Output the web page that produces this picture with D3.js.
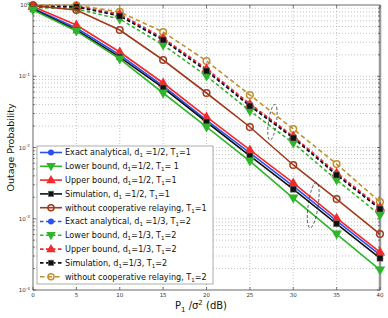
<!DOCTYPE html>
<html>
<head>
<meta charset="utf-8">
<script src="https://cdn.jsdelivr.net/npm/d3@7"></script>
<style>
  body { margin: 0; background: #fff; }
  svg text { font-family: "DejaVu Sans", sans-serif; }
</style>
</head>
<body>
<div id="chart"></div>
<script>
// SNR axis (dB)
const snr = [0, 5, 10, 15, 20, 25, 30, 35, 40];

// case 1: d1=1/2, T1=1 (solid)
const exact1 = [0.90, 0.475, 0.199, 0.073, 0.0243, 0.00838, 0.00288, 0.00093, 0.00031];
const lower1 = [0.85, 0.43, 0.175, 0.0582, 0.0194, 0.00646, 0.00195, 0.00061, 0.000191];
const upper1 = [0.95, 0.524, 0.219, 0.0804, 0.0268, 0.00923, 0.00318, 0.00102, 0.000341];
const sim1 = [0.88, 0.446, 0.186, 0.0685, 0.0228, 0.0076, 0.0026, 0.00085, 0.00028];
const noCoop1 = [0.98, 0.85, 0.446, 0.169, 0.0582, 0.0194, 0.00568, 0.00189, 0.00061];

// case 2: d1=1/3, T1=2 (dashed)
const exact2 = [0.96, 0.95, 0.724, 0.333, 0.1227, 0.0395, 0.014, 0.00425, 0.00141];
const lower2 = [0.93, 0.88, 0.636, 0.275, 0.101, 0.0325, 0.0116, 0.0035, 0.00113];
const upper2 = [0.97, 0.96, 0.748, 0.344, 0.127, 0.0409, 0.0144, 0.0044, 0.00145];
const sim2 = [0.95, 0.94, 0.70, 0.323, 0.1186, 0.0382, 0.0136, 0.00411, 0.00137];
const noCoop2 = [1.0, 0.99, 0.80, 0.418, 0.164, 0.0546, 0.0182, 0.00586, 0.00172];

const xTicks = [0, 5, 10, 15, 20, 25, 30, 35, 40];
const yTicks = [1, 1e-1, 1e-2, 1e-3, 1e-4];
const yExp = ["0", "-1", "-2", "-3", "-4"];

const series = [
  { name: "Exact analytical, d", tail: " =1/2, T", end: "=1", values: exact1, color: "#2a52f0", marker: "dot", dash: null },
  { name: "Lower bound, d", tail: "=1/2, T", end: "= 1", values: lower1, color: "#2fb52a", marker: "down", dash: null },
  { name: "Upper bound, d", tail: "=1/2, T", end: "=1", values: upper1, color: "#f42a2a", marker: "up", dash: null },
  { name: "Simulation, d", tail: " =1/2, T", end: "=1", values: sim1, color: "#111", marker: "square", dash: null },
  { name: "without cooperative relaying, T", tail: null, end: "=1", values: noCoop1, color: "#a03a1a", marker: "ring", dash: null },
  { name: "Exact analytical, d", tail: " =1/3, T", end: "=2", values: exact2, color: "#2a52f0", marker: "dot", dash: "3.5,2.5" },
  { name: "Lower bound, d", tail: "=1/3, T", end: "=2", values: lower2, color: "#2fb52a", marker: "down", dash: "3.5,2.5" },
  { name: "Upper bound, d", tail: "=1/3, T", end: "=2", values: upper2, color: "#f42a2a", marker: "up", dash: "3.5,2.5" },
  { name: "Simulation, d", tail: "=1/3, T", end: "=2", values: sim2, color: "#111", marker: "square", dash: "3.5,2.5" },
  { name: "without cooperative relaying, T", tail: null, end: "=2", values: noCoop2, color: "#c0902e", marker: "ring", dash: "4.5,3" }
];

const W = 388, H = 318;
const margin = { left: 33, right: 8, top: 5, bottom: 28 };

const svg = d3.select("#chart").append("svg")
  .attr("width", W).attr("height", H);

const x = d3.scaleLinear().domain([0, 40]).range([margin.left, W - margin.right]);
const y = d3.scaleLog().domain([1e-4, 1]).range([H - margin.bottom, margin.top]);

// grid
const grid = svg.append("g").attr("stroke", "#b5b5b5").attr("stroke-dasharray", "1,2").attr("stroke-width", 0.8);
xTicks.slice(1, -1).forEach(t => {
  grid.append("line").attr("x1", x(t)).attr("x2", x(t)).attr("y1", y(1)).attr("y2", y(1e-4));
});
for (let e = -4; e < 0; e++) {
  for (let m = 1; m < 10; m++) {
    const v = m * Math.pow(10, e);
    if (m === 1 && e === -4) continue;
    grid.append("line").attr("x1", x(0)).attr("x2", x(40)).attr("y1", y(v)).attr("y2", y(v));
  }
}

// frame
svg.append("rect").attr("x", x(0)).attr("y", y(1)).attr("width", x(40) - x(0)).attr("height", y(1e-4) - y(1))
  .attr("fill", "none").attr("stroke", "#444").attr("stroke-width", 0.8);
svg.append("line").attr("x1", x(40)).attr("x2", x(40)).attr("y1", y(1)).attr("y2", y(1e-4))
  .attr("stroke", "#999").attr("stroke-width", 2.5);

// ticks
const tk = svg.append("g").attr("stroke", "#444").attr("stroke-width", 0.7);
xTicks.forEach(t => {
  tk.append("line").attr("x1", x(t)).attr("x2", x(t)).attr("y1", y(1e-4)).attr("y2", y(1e-4) - 3);
  tk.append("line").attr("x1", x(t)).attr("x2", x(t)).attr("y1", y(1)).attr("y2", y(1) + 3);
});
for (let e = -4; e < 0; e++) {
  for (let m = 1; m < 10; m++) {
    const v = m * Math.pow(10, e);
    const len = m === 1 ? 3 : 1.8;
    tk.append("line").attr("x1", x(0)).attr("x2", x(0) + len).attr("y1", y(v)).attr("y2", y(v));
    tk.append("line").attr("x1", x(40)).attr("x2", x(40) - len).attr("y1", y(v)).attr("y2", y(v));
  }
}

svg.append("g").selectAll("text").data(xTicks).join("text")
  .attr("x", d => x(d)).attr("y", y(1e-4) + 7)
  .attr("text-anchor", "middle").attr("font-size", 5.5).attr("fill", "#333")
  .text(d => d);

const yl = svg.append("g").selectAll("text").data(yTicks).join("text")
  .attr("x", x(0) - 3).attr("y", d => y(d) + 2)
  .attr("text-anchor", "end").attr("font-size", 5.5).attr("fill", "#333");
yl.append("tspan").text("10");
yl.append("tspan").attr("dy", -2.5).attr("font-size", 4.2).text((d, i) => yExp[i]);

// axis titles
svg.append("text")
  .attr("transform", `translate(14,${(y(1) + y(1e-4)) / 2}) rotate(-90)`)
  .attr("text-anchor", "middle").attr("font-size", 9.5).attr("fill", "#111")
  .text("Outage Probability");

const xt = svg.append("text").attr("x", 201).attr("y", 309)
  .attr("text-anchor", "middle").attr("font-size", 10).attr("fill", "#111");
xt.append("tspan").text("P");
xt.append("tspan").attr("dy", 2.5).attr("font-size", 7).text("1");
xt.append("tspan").attr("dy", -2.5).text(" /σ");
xt.append("tspan").attr("dy", -4).attr("font-size", 7).text("2");
xt.append("tspan").attr("dy", 4).text(" (dB)");

// markers
function drawMarker(g, type, color, cx, cy, s) {
  if (type === "dot") {
    g.append("circle").attr("cx", cx).attr("cy", cy).attr("r", s * 0.55).attr("fill", color);
  } else if (type === "up") {
    const sym = d3.symbol().type(d3.symbolTriangle).size(s * s * 1.3);
    g.append("path").attr("d", sym()).attr("transform", `translate(${cx},${cy + 0.5})`).attr("fill", color);
  } else if (type === "down") {
    const sym = d3.symbol().type(d3.symbolTriangle).size(s * s * 1.3);
    g.append("path").attr("d", sym()).attr("transform", `translate(${cx},${cy - 0.5}) rotate(180)`).attr("fill", color);
  } else if (type === "square") {
    g.append("rect").attr("x", cx - s / 2).attr("y", cy - s / 2).attr("width", s).attr("height", s)
      .attr("fill", color).attr("stroke", "#777").attr("stroke-width", 0.6);
  } else if (type === "ring") {
    g.append("circle").attr("cx", cx).attr("cy", cy).attr("r", s * 0.55).attr("fill", "none")
      .attr("stroke", color).attr("stroke-width", 1.5);
  }
}

const line = d3.line().x((d, i) => x(snr[i])).y(d => y(d));
// draw dashed first, then solid on top
const order = [9, 5, 7, 6, 8, 4, 0, 2, 3, 1];
order.forEach(k => {
  const s = series[k];
  const g = svg.append("g");
  g.append("path").datum(s.values).attr("d", line)
    .attr("fill", "none").attr("stroke", s.color).attr("stroke-width", 1.6)
    .attr("stroke-dasharray", s.dash);
  s.values.forEach((v, i) => drawMarker(g, s.marker, s.color, x(snr[i]), y(v), 6));
});

// annotation ellipses
const ann = svg.append("g").attr("fill", "none").attr("stroke", "#222").attr("stroke-width", 0.7).attr("stroke-dasharray", "3,2");
ann.append("ellipse").attr("cx", x(27.6)).attr("cy", y(0.0226)).attr("rx", 4).attr("ry", 18).attr("transform", `rotate(8,${x(27.6)},${y(0.0226)})`);
ann.append("ellipse").attr("cx", x(32.3)).attr("cy", y(0.00155)).attr("rx", 5).attr("ry", 23).attr("transform", `rotate(8,${x(32.3)},${y(0.00155)})`);

// legend
const lg = svg.append("g");
lg.append("rect").attr("x", 37).attr("y", 146).attr("width", 176).attr("height", 138)
  .attr("fill", "#fff").attr("stroke", "#999").attr("stroke-width", 0.8);
series.forEach((s, i) => {
  const ly = 152.5 + i * 13.8;
  lg.append("line").attr("x1", 40).attr("x2", 62).attr("y1", ly).attr("y2", ly)
    .attr("stroke", s.color).attr("stroke-width", 1.6).attr("stroke-dasharray", s.dash);
  drawMarker(lg, s.marker, s.color, 51, ly, 5.5);
  const t = lg.append("text").attr("x", 65).attr("y", ly + 2.9).attr("font-size", 8.1).attr("fill", "#111");
  t.append("tspan").text(s.name);
  if (s.tail) {
    t.append("tspan").attr("dy", 2).attr("font-size", 5.5).text("1");
    t.append("tspan").attr("dy", -2).text(s.tail);
  }
  t.append("tspan").attr("dy", 2).attr("font-size", 5.5).text("1");
  t.append("tspan").attr("dy", -2).text(s.end);
});
</script>
</body>
</html>
